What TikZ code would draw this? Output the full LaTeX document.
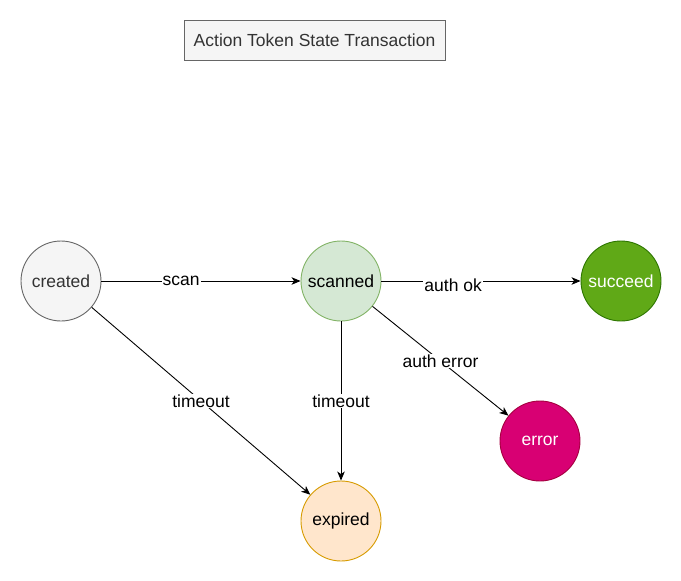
\documentclass[tikz,border=0pt]{standalone}
\usepackage{fontspec}
\setmainfont{Liberation Sans}
\usepackage{xcolor}
\usetikzlibrary{arrows.meta}
\definecolor{greyfill}{HTML}{F5F5F5}
\definecolor{greyline}{HTML}{666666}
\definecolor{greytext}{HTML}{333333}
\definecolor{greenfill}{HTML}{D5E8D4}
\definecolor{greenline}{HTML}{82B366}
\definecolor{okfill}{HTML}{60A917}
\definecolor{okline}{HTML}{2D7600}
\definecolor{errfill}{HTML}{D80073}
\definecolor{errline}{HTML}{A50040}
\definecolor{expfill}{HTML}{FFE6CC}
\definecolor{expline}{HTML}{D79B00}
\tikzset{
  statenode/.style={draw, circle, minimum size=80pt, inner sep=0pt, line width=0.9pt, font=\fontsize{17.5}{20}\selectfont},
  titlebox/.style={draw=greyline, fill=greyfill, text=greytext, minimum width=261pt, minimum height=40pt, inner sep=0pt, line width=0.9pt, font=\fontsize{17.5}{20}\selectfont},
  trans/.style={-{Stealth[length=9pt,width=7.5pt,inset=2.5pt]}, line width=0.9pt},
  edgelabel/.style={fill=white, inner sep=1pt, font=\fontsize{17.5}{20}\selectfont},
}
\begin{document}
\begin{tikzpicture}[x=1pt, y=-1pt]
  \useasboundingbox (0,0) rectangle (681,581);
  % title
  \node[titlebox] (title) at (314.5,40) {Action Token State Transaction};

  % states
  \node[statenode, draw=greyline, fill=greyfill, text=greytext] (created) at (61,281) {created};
  \node[statenode, draw=greenline, fill=greenfill] (scanned) at (341,281) {scanned};
  \node[statenode, draw=okline, fill=okfill, text=white] (succeed) at (621,281) {succeed};
  \node[statenode, draw=errline, fill=errfill, text=white] (error) at (540,441) {error};
  \node[statenode, draw=expline, fill=expfill] (expired) at (341,521) {expired};

  % transitions
  \draw[trans] (created) -- node[edgelabel, pos=0.4] {scan} (scanned);
  \draw[trans] (scanned) -- node[edgelabel, pos=0.36, yshift=-4pt] {auth ok} (succeed);
  \draw[trans] (scanned) -- node[edgelabel] {auth error} (error);
  \draw[trans] (scanned) -- node[edgelabel] {timeout} (expired);
  \draw[trans] (created) -- node[edgelabel] {timeout} (expired);
\end{tikzpicture}
\end{document}
